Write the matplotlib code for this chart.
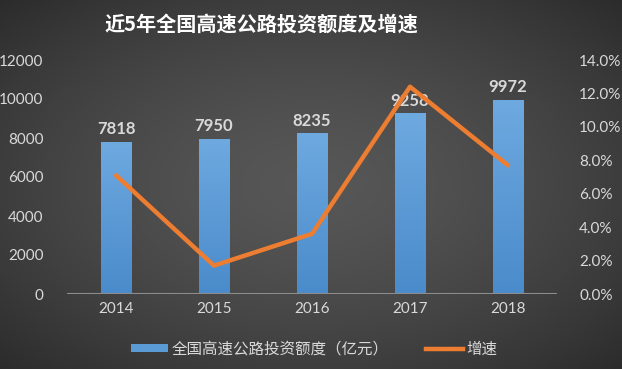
import numpy as np
import matplotlib
matplotlib.use("Agg")
import matplotlib.pyplot as plt
from matplotlib.lines import Line2D
from matplotlib.patches import Patch
from matplotlib.colors import LinearSegmentedColormap

plt.rcParams['font.family'] = ['Noto Sans CJK SC', 'DejaVu Sans']

years = ["2014", "2015", "2016", "2017", "2018"]
investment = [7818, 7950, 8235, 9258, 9972]
growth = [7.1, 1.7, 3.6, 12.4, 7.7]  # percent
left_ticks = [0, 2000, 4000, 6000, 8000, 10000, 12000]
right_ticks = [0, 2, 4, 6, 8, 10, 12, 14]
title = "近5年全国高速公路投资额度及增速"
bar_label = "全国高速公路投资额度（亿元）"
line_label = "增速"

W, H = 622, 369
fig = plt.figure(figsize=(W / 100, H / 100), dpi=100)

# radial gradient background
bg = fig.add_axes([0, 0, 1, 1], zorder=-10)
yy, xx = np.mgrid[0:1:200j, 0:1:300j]
r = np.sqrt(((xx - 0.5) / 0.75) ** 2 + ((yy - 0.5) / 0.75) ** 2)
v = 0.34 - 0.17 * np.clip(r / 0.95, 0, 1) ** 1.5
img = np.dstack([v, v, v])
bg.imshow(img, extent=[0, 1, 0, 1], aspect='auto', origin='lower')
bg.axis('off')

ax = fig.add_axes([67 / W, 1 - 294 / H, 490 / W, 234 / H])
ax.patch.set_alpha(0)
x = np.arange(len(years))
bars = ax.bar(x, investment, width=0.31, color='#5b9bd5', zorder=2)
grad = np.linspace(0, 1, 100).reshape(-1, 1)
cmap = LinearSegmentedColormap.from_list('b', ['#4a8bcb', '#6ea9e0'])
for b in bars:
    im = ax.imshow(grad, extent=[b.get_x(), b.get_x() + b.get_width(), 0, b.get_height()],
                   origin='lower', cmap=cmap, aspect='auto', zorder=2.5)
    im.set_clip_path(b)
for xi, val in zip(x, investment):
    ax.text(xi, val + 250, f"{val}", ha='center', va='bottom', fontsize=12,
            fontweight='bold', color='#d9d9d9', family='Lato')
ax.set_xlim(-0.5, len(years) - 0.5)
ax.set_ylim(0, 12000)
ax.set_yticks(left_ticks)
ax.set_yticklabels([str(t) for t in left_ticks], family='Lato')
ax.set_xticks(x)
ax.set_xticklabels(years, family='Lato')
ax.tick_params(axis='both', length=0, colors='#d9d9d9', labelsize=11)
ax.tick_params(axis='y', pad=17)
ax.tick_params(axis='x', pad=6)
for s in ax.spines.values():
    s.set_visible(False)
ax.axhline(0, color='#8c8c8c', lw=1.5, zorder=3)

ax2 = ax.twinx()
ax2.plot(x, growth, color='#ed7d31', lw=3.2, solid_capstyle='round', zorder=5)
ax2.set_ylim(0, 14)
ax2.set_yticks(right_ticks)
ax2.set_yticklabels([f"{t:.1f}%" for t in right_ticks], family='Lato')
ax2.tick_params(axis='y', length=0, colors='#d9d9d9', labelsize=11, pad=16)
for s in ax2.spines.values():
    s.set_visible(False)

fig.text(261 / W, 1 - 24 / H, title, ha='center', va='center', fontsize=14.5,
         fontweight='bold', color='white')

handles = [Patch(facecolor='#5b9bd5', edgecolor='none'),
           Line2D([0], [0], color='#ed7d31', lw=3.2)]
fig.legend(handles, [bar_label, line_label], loc='center', bbox_to_anchor=(314 / W, 1 - 349 / H),
           ncol=2, frameon=False, fontsize=11.2, labelcolor='#d9d9d9',
           handlelength=2.4, handleheight=0.5, columnspacing=2.4, handletextpad=0.2)

fig.savefig("out.png", dpi=100)
